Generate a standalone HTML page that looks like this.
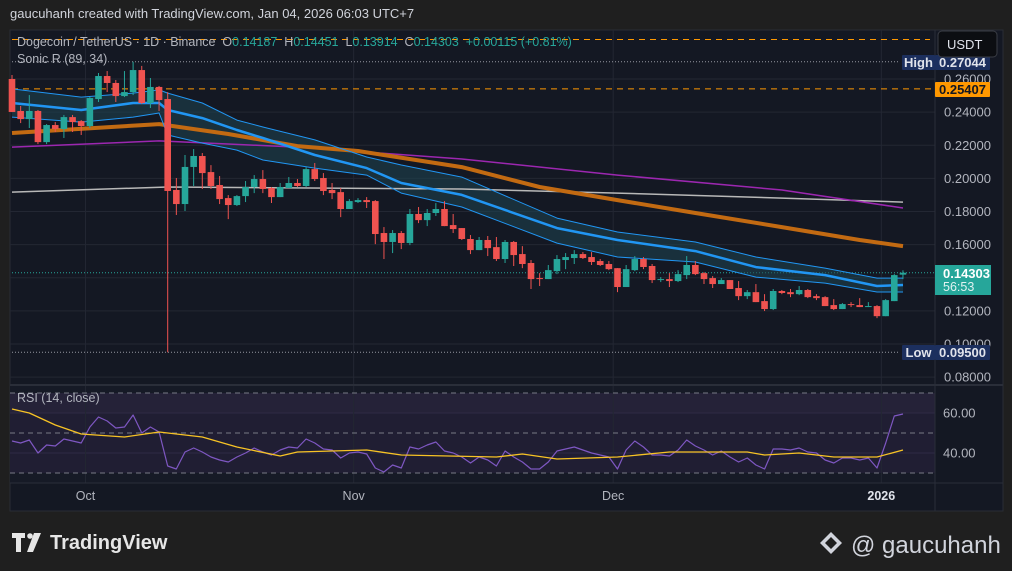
<!DOCTYPE html>
<html><head><meta charset="utf-8"><style>
html,body{margin:0;padding:0;background:#1f1f1f;width:1012px;height:571px;overflow:hidden;font-family:"Liberation Sans",sans-serif}
svg{position:absolute;left:0;top:0}
</style></head><body>
<svg id="c" width="1012" height="571" xmlns="http://www.w3.org/2000/svg"></svg>
<script>
const opens=[.2600,.2407,.2358,.2407,.2219,.2322,.2298,.2370,.2346,.2316,.2479,.2618,.2576,.2497,.2521,.2654,.2455,.2552,.2479,.1930,.1845,.2069,.2135,.2038,.1960,.1881,.1839,.1893,.1948,.1996,.1942,.1887,.1942,.1972,.1954,.2056,.2002,.1930,.1917,.1815,.1857,.1869,.1863,.1670,.1616,.1670,.1610,.1785,.1748,.1791,.1815,.1718,.1700,.1634,.1567,.1628,.1585,.1513,.1616,.1543,.1489,.1398,.1392,.1440,.1507,.1519,.1543,.1525,.1501,.1483,.1458,.1344,.1446,.1513,.1471,.1386,.1392,.1380,.1416,.1477,.1428,.1398,.1362,.1386,.1338,.1289,.1313,.1259,.1211,.1320,.1313,.1301,.1326,.1289,.1283,.1235,.1211,.1241,.1235,.1223,.1229,.1168,.1259,.14187];
const highs=[.2624,.2437,.2503,.2413,.2328,.2340,.2383,.2383,.2352,.2491,.2636,.2648,.2594,.2648,.2704,.2679,.2606,.2558,.2521,.2002,.2141,.2177,.2153,.2080,.2014,.1899,.1899,.1984,.2020,.2050,.1948,.1972,.2008,.1996,.2068,.2093,.2032,.1972,.1942,.1875,.1881,.1887,.1869,.1706,.1688,.1682,.1815,.1827,.1815,.1851,.1863,.1785,.1700,.1658,.1646,.1652,.1646,.1628,.1622,.1591,.1507,.1428,.1477,.1537,.1549,.1567,.1555,.1555,.1513,.1501,.1458,.1477,.1531,.1525,.1483,.1404,.1428,.1446,.1531,.1501,.1434,.1410,.1398,.1386,.1380,.1326,.1362,.1301,.1332,.1326,.1332,.1350,.1332,.1301,.1289,.1271,.1247,.1253,.1277,.1253,.1235,.1271,.1422,.14451];
const lows=[.2401,.2334,.2304,.2207,.2207,.2280,.2244,.2280,.2262,.2304,.2461,.2521,.2461,.2491,.2503,.2449,.2425,.2407,.0950,.1779,.1803,.1954,.1936,.1936,.1845,.1754,.1833,.1857,.1911,.1911,.1851,.1887,.1942,.1948,.1948,.1984,.1899,.1875,.1766,.1815,.1851,.1821,.1603,.1513,.1549,.1573,.1597,.1730,.1712,.1773,.1712,.1670,.1628,.1543,.1567,.1531,.1501,.1489,.1471,.1458,.1332,.1350,.1392,.1422,.1452,.1483,.1513,.1477,.1471,.1446,.1313,.1344,.1440,.1452,.1368,.1374,.1344,.1374,.1392,.1416,.1362,.1338,.1362,.1332,.1265,.1271,.1253,.1199,.1205,.1301,.1283,.1295,.1277,.1265,.1229,.1205,.1211,.1223,.1223,.1223,.1156,.1168,.1259,.13914];
const closes=[.2401,.2358,.2407,.2219,.2322,.2298,.2370,.2340,.2316,.2485,.2618,.2576,.2497,.2521,.2654,.2455,.2552,.2473,.1924,.1845,.2069,.2135,.2032,.1954,.1875,.1839,.1893,.1948,.1996,.1936,.1887,.1948,.1972,.1954,.2056,.1996,.1924,.1911,.1815,.1863,.1869,.1857,.1664,.1616,.1670,.1610,.1785,.1748,.1791,.1815,.1712,.1694,.1634,.1567,.1628,.1579,.1513,.1616,.1537,.1483,.1392,.1392,.1446,.1513,.1525,.1543,.1519,.1495,.1477,.1452,.1344,.1452,.1513,.1465,.1386,.1392,.1380,.1422,.1477,.1422,.1392,.1362,.1386,.1332,.1289,.1313,.1253,.1211,.1320,.1308,.1301,.1326,.1283,.1277,.1229,.1211,.1241,.1235,.1223,.1229,.1168,.1265,.1416,.14303];
const rsi=[46,45,46.5,40,44,43.5,47,46,45,53,58,56,52.5,53,59,50,53,50.5,33.5,32,40.5,42.5,40.5,38,36.5,35.5,38,40,42.5,40.5,39,41.5,43,42.5,47,45,42,41.5,37.5,40,40.5,39.5,32.5,30.5,34,32.5,43,42,44,45.5,41,40,38,35,38,36.5,33.5,41,38,35.5,32,32,35.5,41,42,43,41.5,40,39,38,32,41.5,46,43,39,39,38.5,41.5,46.5,43.5,41.5,39,41,38,35.5,37.5,34,32,42,42,41.5,42.5,40.5,40,36.5,35,37.5,37.5,36.5,37.5,32.5,45,58.5,59.5];
const rsiMaIdx=[0,2,5,8,13,17,22,26,31,33,41,45,56,59,63,70,76,85,87,91,95,100,103];
const rsiMaVal=[62,60,54,49.5,48,50.5,48,43,38.5,40.5,41.5,39,38,39.5,37,38,40.5,40.5,39,40,38,38,41.5];
const slowIdx=[0,17,25,33,40,52,61,70,79,89,98,103];
const slowVal=[.2274,.2328,.2268,.2195,.2165,.2068,.1948,.1869,.1791,.1706,.1628,.1591];
const purpleIdx=[0,17,33,52,70,89,103];
const purpleVal=[.2189,.2226,.2189,.2117,.2020,.1930,.1821];
const grayIdx=[0,18,52,70,89,103];
const grayVal=[.1917,.1948,.1936,.1911,.1881,.1857];
const bandIdx=[0,8,14,17,18,22,26,29,35,41,45,52,63,70,79,86,94,100,103];
const bandMid=[.2455,.2413,.2455,.2455,.2413,.2364,.2292,.2244,.2141,.2062,.1972,.1900,.1700,.1628,.1561,.1464,.1416,.1350,.1356];
const bandHigh=[.2540,.2491,.2515,.2534,.2515,.2455,.2352,.2310,.2232,.2129,.2081,.2008,.1760,.1676,.1616,.1525,.1458,.1398,.1398];
const bandLow=[.2370,.2340,.2370,.2395,.2262,.2213,.2171,.2111,.2062,.2020,.1911,.1827,.1609,.1525,.1495,.1404,.1368,.1314,.1314];
const priceTicks=[0.26,0.24,0.22,0.20,0.18,0.16,0.14,0.12,0.10,0.08];
const rsiTicks=[60,40];
const monthLabels=["Oct","Nov","Dec","2026"];
const monthIdx=[8.5,39.5,69.5,100.5];

const svg=document.getElementById('c');const NS="http://www.w3.org/2000/svg";
function el(t,a,p){const e=document.createElementNS(NS,t);for(const k in a)e.setAttribute(k,a[k]);(p||svg).appendChild(e);return e;}
function tx(s,a,p){const e=el('text',a,p);e.textContent=s;return e;}
const X=i=>12+i*8.65;
const Y=p=>79+(0.26-p)*1656.25;
const RY=v=>413+(60-v)*2;

let r=el('rect',{x:10,y:30,width:993,height:481,fill:'#141823',stroke:'#2a2d35'});

el('rect',{x:10,y:386,width:925,height:97,fill:'#161a26'});
el('rect',{x:10,y:393,width:925,height:80,fill:'#201e33'});
el('rect',{x:10,y:393,width:925,height:20,fill:'#252238'});
priceTicks.forEach(p=>el('line',{x1:10,x2:935,y1:Y(p),y2:Y(p),stroke:'#232733'}));
rsiTicks.forEach(v=>el('line',{x1:10,x2:935,y1:RY(v),y2:RY(v),stroke:'#2e2b45'}));
monthIdx.forEach(i=>{el('line',{x1:X(i),x2:X(i),y1:30,y2:483,stroke:'#232733'});});
el('line',{x1:10,x2:1003,y1:385,y2:385,stroke:'#2a2e39','stroke-width':2});
el('line',{x1:10,x2:1003,y1:483,y2:483,stroke:'#2a2e39'});
el('line',{x1:935,x2:935,y1:30,y2:511,stroke:'#2a2e39'});
[70,50,30].forEach(v=>el('line',{x1:10,x2:935,y1:RY(v),y2:RY(v),stroke:'#787b86','stroke-dasharray':'5 4','stroke-width':1}));
el('line',{x1:12,x2:930,y1:39.5,y2:39.5,stroke:'#ff9800','stroke-dasharray':'6 5'});
el('line',{x1:12,x2:935,y1:Y(0.25407),y2:Y(0.25407),stroke:'#ff9800','stroke-dasharray':'6 5'});
el('line',{x1:12,x2:900,y1:Y(0.27044),y2:Y(0.27044),stroke:'#9598a1','stroke-dasharray':'1 2'});
el('line',{x1:12,x2:900,y1:Y(0.095),y2:Y(0.095),stroke:'#9598a1','stroke-dasharray':'1 2'});
el('line',{x1:12,x2:935,y1:Y(0.14303),y2:Y(0.14303),stroke:'#26a69a','stroke-dasharray':'1 2'});
const pts=(idx,val,f)=>idx.map((i,k)=>X(i).toFixed(1)+','+f(val[k]).toFixed(1));
let band=el('polygon',{points:pts(bandIdx,bandHigh,Y).concat(pts(bandIdx,bandLow,Y).reverse()).join(' '),fill:'#1d4552','fill-opacity':0.55});

function line(idx,val,f,col,w,name){const e=el('polyline',{points:pts(idx,val,f).join(' '),fill:'none',stroke:col,'stroke-width':w,'stroke-linejoin':'round'});return e;}
line(grayIdx,grayVal,Y,'#b8b8b8',1.5,'gray-ma-line');
line(purpleIdx,purpleVal,Y,'#9c27b0',1.5,'purple-ma-line');
line(slowIdx,slowVal,Y,'#c26a12',4,'ema-89-line');
line(bandIdx,bandHigh,Y,'#2196f3',1,'band-high-line');
line(bandIdx,bandLow,Y,'#2196f3',1,'band-low-line');
line(bandIdx,bandMid,Y,'#2196f3',2.5,'band-mid-line');
const cg=el('g',{});
for(let i=0;i<opens.length;i++){
  const up=closes[i]>=opens[i];const col=up?'#26a69a':'#ef5350';
  const w=el('line',{x1:X(i),x2:X(i),y1:Y(highs[i]),y2:Y(lows[i]),stroke:col,'stroke-width':1},cg);
  
  
  const t=Y(Math.max(opens[i],closes[i])),b=Y(Math.min(opens[i],closes[i]));
  const bd=el('rect',{x:X(i)-3.3,y:t,width:6.6,height:Math.max(1,b-t),fill:col},cg);
  
  
}
const ri=rsi.map((v,i)=>i);
line(ri,rsi,RY,'#7e57c2',1.2,'rsi-line');
line(rsiMaIdx,rsiMaVal,RY,'#f7c325',1.3,'rsi-ma-line');
priceTicks.forEach(p=>{const e=tx(p.toFixed(5),{x:944,y:Y(p)+4.5,fill:'#b2b5be','font-size':13},svg);});
rsiTicks.forEach(v=>{const e=tx(v.toFixed(2),{x:943,y:RY(v)+4.5,fill:'#b2b5be','font-size':13},svg);});
monthLabels.forEach((m,k)=>{const e=tx(m,{x:X(monthIdx[k]),y:500,fill:k==3?'#e0e3eb':'#b2b5be','font-size':12.5,'text-anchor':'middle','font-weight':k==3?'bold':'normal'},svg);});
function badge(x,y,w,h,bg,s,col,name){const g=el('g',{});el('rect',{x,y,width:w,height:h,fill:bg,rx:1},g);tx(s,{x:x+w/2,y:y+h/2+4.5,fill:col,'font-size':13,'text-anchor':'middle','font-weight':'bold'},g);return g;}
badge(902,55,33,15,'#1c2f5e','High','#e0e3eb','high-label');
badge(935,55,55,15,'#1c2f5e','0.27044','#e0e3eb','high-price-badge');
badge(935,82,55,15,'#ff9800','0.25407','#131722','level-price-badge');
badge(902,345,33,15,'#1c2f5e','Low','#e0e3eb','low-label');
badge(935,345,55,15,'#1c2f5e','0.09500','#e0e3eb','low-price-badge');
let g=el('g',{});
el('rect',{x:935,y:265,width:56,height:30,fill:'#26a69a'},g);
tx('0.14303',{x:943,y:278,fill:'#fff','font-size':13,'font-weight':'bold'},g);
tx('56:53',{x:943,y:291,fill:'#e0f2f1','font-size':12.5},g);
g=el('g',{});
el('rect',{x:938,y:31,width:59,height:26,rx:4,fill:'#0c0e12',stroke:'#3a3d45'},g);
tx('USDT',{x:947,y:49,fill:'#e0e3eb','font-size':13},g);
let t=tx('gaucuhanh created with TradingView.com, Jan 04, 2026 06:03 UTC+7',{x:10,y:18,fill:'#d1d4dc','font-size':13});

t=el('text',{x:17,y:46,'font-size':12.5,fill:'#b2b5be'});
t.innerHTML='Dogecoin / TetherUS · 1D · Binance  O<tspan fill="#26a69a">0.14187</tspan>  H<tspan fill="#26a69a">0.14451</tspan>  L<tspan fill="#26a69a">0.13914</tspan>  C<tspan fill="#26a69a">0.14303</tspan>  <tspan fill="#26a69a">+0.00115 (+0.81%)</tspan>';
t.style.whiteSpace='pre';
t=tx('Sonic R (89, 34)',{x:17,y:63,fill:'#b2b5be','font-size':12.5});
t=tx('RSI (14, close)',{x:17,y:402,fill:'#b2b5be','font-size':12.5});
g=el('g',{});
el('path',{d:'M12 533h13v5h-4v14h-5v-14h-4z M34 533h7l-8 19h-6z',fill:'#e6e6e6'},g);
el('circle',{cx:30,cy:536,r:2.8,fill:'#e6e6e6'},g);
tx('TradingView',{x:50,y:549,fill:'#e6e6e6','font-size':20,'font-weight':'bold'},g);
g=el('g',{});
el('path',{d:'M831 532l11 11-11 11-11-11z M831 537l6 6-6 6-6-6z',fill:'#d1d4dc','fill-rule':'evenodd'},g);
tx('@ gaucuhanh',{x:851,y:553,fill:'#d1d4dc','font-size':24},g);
</script>
</body></html>
